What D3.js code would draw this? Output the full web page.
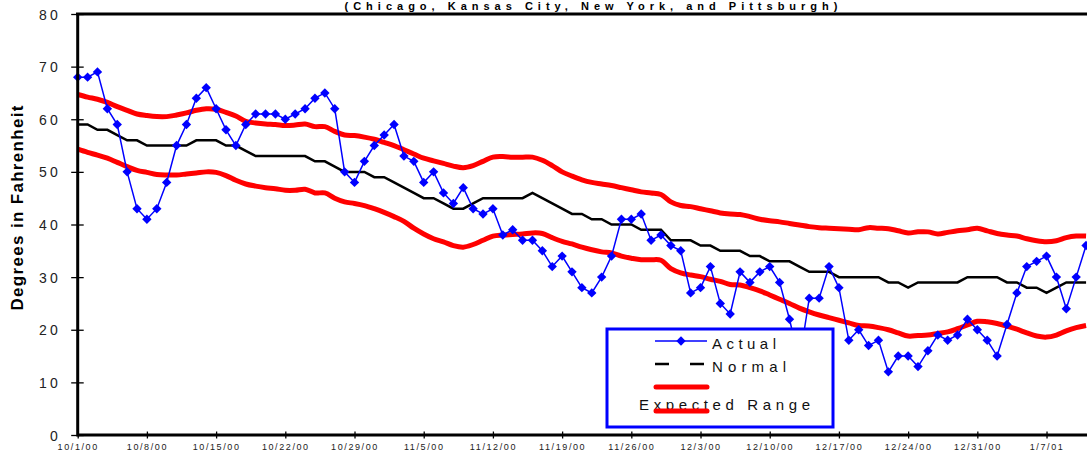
<!DOCTYPE html>
<html>
<head>
<meta charset="utf-8">
<script src="https://cdn.jsdelivr.net/npm/d3@7"></script>
<style>
  html, body { margin: 0; padding: 0; background: #fff; }
  svg { display: block; font-family: Arial, "Liberation Sans", sans-serif; }
</style>
</head>
<body>
<script>
// chart data, one value per day starting 10/1/00
var startDate = "2000-10-01";

var actual = [
  68, 68, 69, 62, 59, 50, 43, 41, 43, 48,
  55, 59, 64, 66, 62, 58, 55, 59, 61, 61,
  61, 60, 61, 62, 64, 65, 62, 50, 48, 52,
  55, 57, 59, 53, 52, 48, 50, 46, 44, 47,
  43, 42, 43, 38, 39, 37, 37, 35, 32, 34,
  31, 28, 27, 30, 34, 41, 41, 42, 37, 38,
  36, 35, 27, 28, 32, 25, 23, 31, 29, 31,
  32, 29, 22, 14, 26, 26, 32, 28, 18, 20,
  17, 18, 12, 15, 15, 13, 16, 19, 18, 19,
  22, 20, 18, 15, 21, 27, 32, 33, 34, 30,
  24, 30, 36
];

var normal = [
  59, 59, 58, 58, 57, 56, 56, 55, 55, 55,
  55, 55, 56, 56, 56, 55, 55, 54, 53, 53,
  53, 53, 53, 53, 52, 52, 51, 50, 50, 50,
  49, 49, 48, 47, 46, 45, 45, 44, 43, 43,
  44, 45, 45, 45, 45, 45, 46, 45, 44, 43,
  42, 42, 41, 41, 40, 40, 40, 39, 39, 39,
  37, 37, 37, 36, 36, 35, 35, 35, 34, 34,
  33, 33, 33, 32, 31, 31, 31, 30, 30, 30,
  30, 30, 29, 29, 28, 29, 29, 29, 29, 29,
  30, 30, 30, 30, 29, 29, 28, 28, 27, 28,
  29, 29, 29
];

var upperRange = [
  64.7, 64.2, 63.8, 63.2, 62.4, 61.7, 61.0, 60.7, 60.5, 60.5,
  60.8, 61.2, 61.7, 62.0, 61.9, 61.3, 60.6, 59.6, 59.3, 59.1,
  59.0, 58.8, 58.9, 59.1, 58.6, 58.6, 57.7, 57.0, 56.9, 56.6,
  56.2, 55.6, 55.0, 54.2, 53.4, 52.6, 52.1, 51.6, 51.1, 50.8,
  51.2, 52.0, 52.8, 52.9, 52.8, 52.8, 52.8, 52.2, 51.2, 50.0,
  49.2, 48.5, 48.0, 47.7, 47.4, 47.0, 46.6, 46.2, 46.0, 45.7,
  44.3, 43.6, 43.4, 43.0, 42.6, 42.2, 42.0, 41.9, 41.5, 41.0,
  40.7, 40.5, 40.2, 39.9, 39.6, 39.4, 39.3, 39.2, 39.1, 39.0,
  39.4, 39.3, 39.2, 38.8, 38.4, 38.6, 38.6, 38.2, 38.5, 38.8,
  39.0, 39.3, 38.8, 38.3, 38.0, 37.8, 37.3, 36.9, 36.7, 36.9,
  37.5, 37.8, 37.8
];

var lowerRange = [
  54.3, 53.7, 53.2, 52.6, 51.8, 51.0, 50.3, 49.9, 49.5, 49.4,
  49.4, 49.6, 49.8, 50.0, 49.9, 49.3, 48.4, 47.7, 47.3, 47.0,
  46.8, 46.5, 46.5, 46.7, 46.0, 46.0, 45.0, 44.3, 44.0, 43.6,
  43.0, 42.3, 41.5, 40.6, 39.3, 38.2, 37.3, 36.7, 36.0, 35.7,
  36.2, 37.0, 37.8, 38.0, 38.1, 38.2, 38.4, 38.3, 37.5, 36.8,
  36.3, 35.7, 35.2, 34.8, 34.6, 34.0, 33.6, 33.3, 33.3, 33.2,
  31.6, 30.8, 30.4, 30.1, 29.6, 29.2, 28.6, 28.5, 28.0, 27.4,
  26.6, 25.8, 25.0, 24.1, 23.4, 22.8, 22.3, 21.8, 21.3, 20.8,
  20.7, 20.4, 20.0, 19.4, 18.8, 18.9, 19.0, 19.3, 19.6, 20.2,
  20.9, 21.6, 21.5, 21.2, 20.7, 20.1, 19.4, 18.8, 18.6, 19.0,
  19.8, 20.4, 20.8
];

var tickLabels = ["10/1/00", "10/8/00", "10/15/00", "10/22/00", "10/29/00",
  "11/5/00", "11/12/00", "11/19/00", "11/26/00", "12/3/00", "12/10/00",
  "12/17/00", "12/24/00", "12/31/00", "1/7/01"];
var yTicks = [0, 10, 20, 30, 40, 50, 60, 70, 80];

var title = "(Chicago, Kansas City, New York, and Pittsburgh)";
var yLabel = "Degrees in Fahrenheit";
var legendNames = ["Actual", "Normal", "Expected Range"];

var W = 1087, H = 457;
var parseDate = d3.timeParse("%Y-%m-%d");
var parseTick = d3.timeParse("%m/%d/%y");
var start = parseDate(startDate);

function rows(values) {
  return values.map(function (v, i) { return { date: d3.timeDay.offset(start, i), v: v }; });
}

var svg = d3.select("body").append("svg")
  .attr("width", W)
  .attr("height", H);

svg.append("rect").attr("width", W).attr("height", H).attr("fill", "#fff");

// plot box: 10/1/00 sits on the left axis, scale runs past the right edge
var x = d3.scaleTime()
  .domain([start, d3.timeDay.offset(start, 103)])
  .range([77.7, 77.7 + 103 * 9.886]);

var y = d3.scaleLinear()
  .domain([0, 80])
  .range([435, 14]);

// title
svg.append("text")
  .attr("x", 591)
  .attr("y", 9.5)
  .attr("text-anchor", "middle")
  .attr("font-size", 11)
  .attr("font-weight", "bold")
  .attr("textLength", 493)
  .attr("lengthAdjust", "spacing")
  .text(title);

// y label
svg.append("text")
  .attr("transform", "translate(23,208) rotate(-90)")
  .attr("text-anchor", "middle")
  .attr("font-size", 17)
  .attr("font-weight", "bold")
  .attr("textLength", 205)
  .attr("lengthAdjust", "spacing")
  .text(yLabel);

// lines
var line = d3.line()
  .x(function (d) { return x(d.date); })
  .y(function (d) { return y(d.v); });

var smooth = d3.line()
  .curve(d3.curveCatmullRom)
  .x(function (d) { return x(d.date); })
  .y(function (d) { return y(d.v); });

var g = svg.append("g");

g.append("path").datum(rows(upperRange))
  .attr("d", smooth).attr("fill", "none")
  .attr("stroke", "#ff0000").attr("stroke-width", 5).attr("stroke-linejoin", "round");

g.append("path").datum(rows(lowerRange))
  .attr("d", smooth).attr("fill", "none")
  .attr("stroke", "#ff0000").attr("stroke-width", 5).attr("stroke-linejoin", "round");

g.append("path").datum(rows(normal))
  .attr("d", line).attr("fill", "none")
  .attr("stroke", "#000").attr("stroke-width", 2.5);

g.append("path").datum(rows(actual))
  .attr("d", line).attr("fill", "none")
  .attr("stroke", "#0000ff").attr("stroke-width", 1.5);

var diamond = d3.symbol().type(d3.symbolSquare).size(44);

g.selectAll(".pt")
  .data(rows(actual))
  .enter()
  .append("path")
  .attr("class", "pt")
  .attr("d", diamond)
  .attr("fill", "#0000ff")
  .attr("transform", function (d) { return "translate(" + x(d.date) + "," + y(d.v) + ") rotate(45)"; });

// axes
var yAxis = d3.axisLeft(y).tickValues(yTicks).tickSize(0).tickFormat(d3.format("d"));
var yG = svg.append("g").attr("transform", "translate(77.7,0)").call(yAxis);
yG.select(".domain").remove();
yG.selectAll(".tick line").attr("x1", -6.5).attr("x2", 6).attr("stroke", "#000").attr("stroke-width", 1.3);
yG.selectAll(".tick text")
  .attr("x", -17)
  .attr("dy", "0.36em")
  .attr("font-size", 14)
  .attr("letter-spacing", 3)
  .attr("fill", "#222")
  .attr("font-family", "Arial, 'Liberation Sans', sans-serif");

var xAxis = d3.axisBottom(x)
  .tickValues(tickLabels.map(function (t) { return parseTick(t); }))
  .tickSize(0)
  .tickFormat(function (d, i) { return tickLabels[i]; });
var xG = svg.append("g").attr("transform", "translate(0,435)").call(xAxis);
xG.select(".domain").remove();
xG.selectAll(".tick line").attr("y1", -3.5).attr("y2", 3.5).attr("stroke", "#000").attr("stroke-width", 1.3);
xG.selectAll(".tick text")
  .attr("y", 12)
  .attr("dy", "0.35em")
  .attr("font-size", 9)
  .attr("letter-spacing", 1.6)
  .attr("fill", "#222")
  .attr("font-family", "Arial, 'Liberation Sans', sans-serif");

// frame lines
svg.append("line").attr("x1", 77.7).attr("x2", W).attr("y1", 435).attr("y2", 435)
  .attr("stroke", "#000").attr("stroke-width", 3);
svg.append("line").attr("x1", 77.7).attr("x2", 77.7).attr("y1", 13).attr("y2", 436.5)
  .attr("stroke", "#000").attr("stroke-width", 3);
svg.append("line").attr("x1", 76).attr("x2", W).attr("y1", 14).attr("y2", 14)
  .attr("stroke", "#000").attr("stroke-width", 3);

// legend
var lg = svg.append("g");
lg.append("rect")
  .attr("x", 607).attr("y", 329).attr("width", 226).attr("height", 98)
  .attr("fill", "#fff").attr("stroke", "#0000ff").attr("stroke-width", 3);

lg.append("line").attr("x1", 655).attr("x2", 707).attr("y1", 341).attr("y2", 341)
  .attr("stroke", "#0000ff").attr("stroke-width", 1.5);
lg.append("path").attr("d", diamond).attr("fill", "#0000ff")
  .attr("transform", "translate(681,341) rotate(45)");
lg.append("line").attr("x1", 655).attr("x2", 707).attr("y1", 364).attr("y2", 364)
  .attr("stroke", "#000").attr("stroke-width", 2.5).attr("stroke-dasharray", "14,21");
lg.append("line").attr("x1", 656).attr("x2", 707).attr("y1", 387).attr("y2", 387)
  .attr("stroke", "#ff0000").attr("stroke-width", 5).attr("stroke-linecap", "round");

var legendText = [
  { t: legendNames[0], x: 712, y: 349, w: 64 },
  { t: legendNames[1], x: 712, y: 372, w: 74 },
  { t: legendNames[2], x: 639, y: 410, w: 171 }
];
lg.selectAll(".lt").data(legendText).enter().append("text")
  .attr("class", "lt")
  .attr("x", function (d) { return d.x; })
  .attr("y", function (d) { return d.y; })
  .attr("font-size", 15)
  .attr("textLength", function (d) { return d.w; })
  .attr("lengthAdjust", "spacing")
  .attr("fill", "#111")
  .text(function (d) { return d.t; });

lg.append("line").attr("x1", 656).attr("x2", 707).attr("y1", 411).attr("y2", 411)
  .attr("stroke", "#ff0000").attr("stroke-width", 5).attr("stroke-linecap", "round");
</script>
</body>
</html>
